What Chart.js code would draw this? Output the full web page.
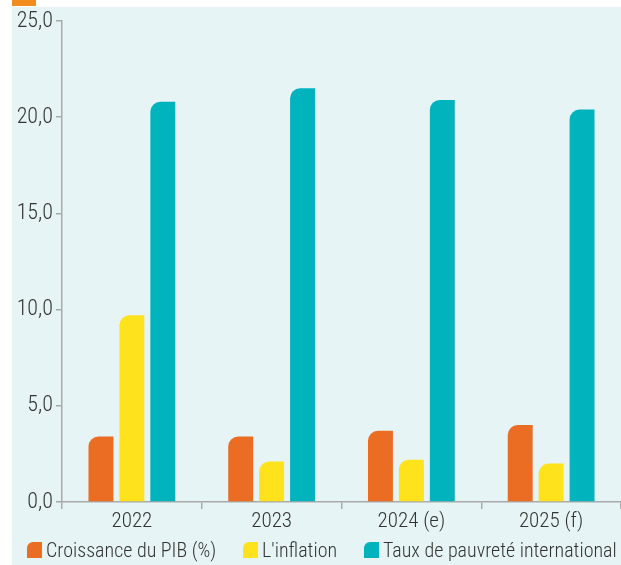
<!DOCTYPE html>
<html>
<head>
<meta charset="utf-8">
<script src="https://cdn.jsdelivr.net/npm/chart.js@4/dist/chart.umd.min.js"></script>
<style>
  html, body { margin: 0; padding: 0; background: #ffffff; }
  #wrap { position: relative; width: 621px; height: 565px; overflow: hidden; }
  #panel { position: absolute; left: 12px; top: 7px; right: 0; bottom: 0; background: #e6f4f5; }
  #tab { position: absolute; left: 12px; top: 0; width: 24px; height: 6px; background: #f28c1e; }
  #box { position: absolute; left: 0; top: 0; width: 621px; height: 565px; }
  #legend { position: absolute; left: 0; top: 538px; width: 621px; height: 24px;
            font-family: "Roboto Condensed", "Liberation Sans Narrow", sans-serif; font-weight: 300;
            font-size: 20px; color: #333333; }
  .item { position: absolute; top: 0; height: 24px; line-height: 24px; white-space: nowrap; }
  .swatch { position: absolute; left: 0; top: 4px; width: 15px; height: 16px; border-top-left-radius: 6px; }
  .txt { position: absolute; left: 19px; top: 0; }
</style>
</head>
<body>
<div id="wrap">
  <div id="panel"></div>
  <div id="tab"></div>
  <div id="box"><canvas id="c"></canvas></div>
  <div id="legend"></div>
</div>
<script>
const categories = ['2022', '2023', '2024 (e)', '2025 (f)'];
const seriesNames = ['Croissance du PIB (%)', "L'inflation", 'Taux de pauvreté international'];
const pibGrowth = [3.4, 3.4, 3.7, 4.0];
const inflation = [9.7, 2.1, 2.2, 2.0];
const povertyRate = [20.8, 21.5, 20.9, 20.4];
const yTicks = [0, 5, 10, 15, 20, 25];

const colors = ['#ea6d23', '#fde21c', '#00b3bd'];
const legendLeft = [27, 243, 364];
const FONT = '"Roboto Condensed", "Liberation Sans Narrow", sans-serif';
const corner = { topLeft: 10, topRight: 0, bottomLeft: 0, bottomRight: 0 };

function ds(label, data, color) {
  return {
    label, data,
    backgroundColor: color,
    borderWidth: 0,
    borderRadius: corner,
    borderSkipped: false,
    categoryPercentage: 0.664,
    barPercentage: 0.806
  };
}

// legend row under the axis
const legendEl = document.getElementById('legend');
seriesNames.forEach((name, i) => {
  const item = document.createElement('div');
  item.className = 'item';
  item.style.left = legendLeft[i] + 'px';
  const sw = document.createElement('div');
  sw.className = 'swatch';
  sw.style.background = colors[i];
  const tx = document.createElement('span');
  tx.className = 'txt';
  tx.textContent = name;
  item.appendChild(sw);
  item.appendChild(tx);
  legendEl.appendChild(item);
});

new Chart(document.getElementById('c'), {
  type: 'bar',
  data: {
    labels: categories,
    datasets: [
      ds(seriesNames[0], pibGrowth, colors[0]),
      ds(seriesNames[1], inflation, colors[1]),
      ds(seriesNames[2], povertyRate, colors[2])
    ]
  },
  options: {
    responsive: true,
    maintainAspectRatio: false,
    animation: false,
    layout: { padding: { top: 21, left: 0, right: 0, bottom: 33 } },
    plugins: {
      tooltip: { enabled: false },
      legend: { display: false }
    },
    scales: {
      y: {
        min: 0, max: 25,
        afterBuildTicks: (s) => { s.ticks = yTicks.map(v => ({ value: v })); },
        afterFit: (s) => { s.width = 62; },
        ticks: {
          font: { family: FONT, size: 22, weight: 300 },
          color: '#333333',
          padding: 3,
          callback: (v) => v.toFixed(1).replace('.', ',')
        },
        grid: { drawOnChartArea: false, drawTicks: true, tickLength: 6, color: '#a9a9a9', lineWidth: 1.5 },
        border: { display: true, color: '#a9a9a9', width: 1.5 }
      },
      x: {
        afterFit: (s) => { s.height = 30; },
        ticks: { font: { family: FONT, size: 21, weight: 300 }, color: '#333333', padding: 0 },
        grid: { drawOnChartArea: false, drawTicks: true, tickLength: 7, offset: true, color: '#a9a9a9', lineWidth: 1.5 },
        border: { display: true, color: '#a9a9a9', width: 1.5 }
      }
    }
  }
});
</script>
</body>
</html>
